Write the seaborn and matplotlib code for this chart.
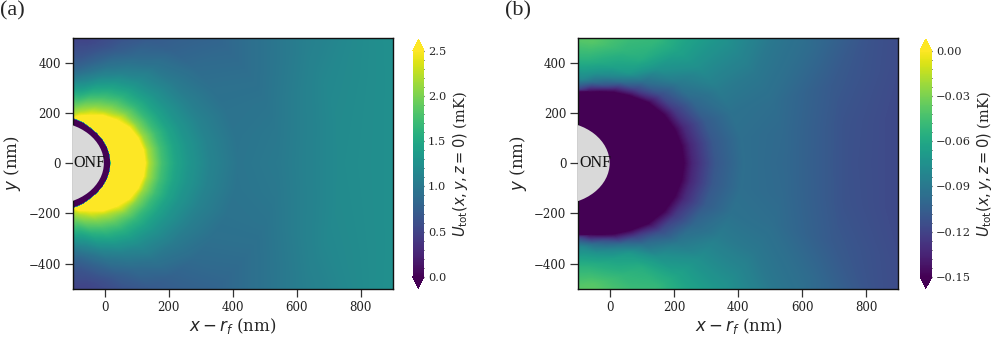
import numpy as np
import matplotlib
matplotlib.use("Agg")
import matplotlib.pyplot as plt
import matplotlib as mpl
import seaborn as sns
from matplotlib.patches import Circle
from matplotlib.ticker import MultipleLocator

# ---------------- data ----------------
# fiber geometry in (x - r_f, y) coordinates, nm
fiber_center_x = -167.0
fiber_radius = 165.0

# sampling of the potential: angle around the fiber axis (deg) and distance from surface (nm)
theta_deg = [0, 10, 20, 30, 40, 50, 58, 65, 71, 77, 84, 90]
dist_nm = [0, 10, 20, 30, 60, 100, 140, 180, 220, 260, 330, 420, 550, 750, 1000, 1300]

# panel (a): U_tot in mK, one list per angle (values along dist_nm)
ua_0 = [-2, -1, -0.3, 8.0, 5.5, 3.2, 2.2, 1.75, 1.48, 1.32, 1.12, 0.97, 1.02, 1.2, 1.26, 1.28]
ua_10 = [-2, -1, -0.3, 8.0, 5.4, 3.15, 2.18, 1.74, 1.47, 1.31, 1.11, 0.96, 1.0, 1.19, 1.26, 1.28]
ua_20 = [-2, -1, -0.4, 8.0, 5.0, 3.0, 2.12, 1.72, 1.46, 1.29, 1.09, 0.95, 0.96, 1.16, 1.25, 1.28]
ua_30 = [-2, -1, -0.5, 7.0, 4.5, 2.8, 2.05, 1.68, 1.43, 1.27, 1.06, 0.92, 0.9, 1.07, 1.22, 1.27]
ua_40 = [-2, -1, -0.6, 6.0, 3.8, 2.5, 2.0, 1.65, 1.42, 1.25, 1.03, 0.87, 0.83, 0.98, 1.15, 1.23]
ua_50 = [-2, -1, -0.9, 5.0, 2.85, 2.2, 1.88, 1.6, 1.38, 1.2, 0.98, 0.78, 0.74, 0.87, 1.02, 1.12]
ua_58 = [-2, -1.5, -2.5, 3.1, 2.45, 2.05, 1.75, 1.5, 1.28, 1.08, 0.86, 0.7, 0.68, 0.8, 0.95, 1.05]
ua_65 = [-2, -2, -2.5, 2.65, 2.2, 1.9, 1.6, 1.35, 1.12, 0.95, 0.72, 0.6, 0.6, 0.7, 0.85, 0.95]
ua_71 = [-2, -2, -2.5, 2.3, 2.05, 1.72, 1.42, 1.17, 0.96, 0.8, 0.6, 0.5, 0.5, 0.58, 0.72, 0.82]
ua_77 = [-2, -2, -2.5, 2.5, 2.1, 1.7, 1.35, 1.05, 0.82, 0.68, 0.52, 0.45, 0.45, 0.55, 0.68, 0.78]
ua_84 = [-2, -2, -2.5, 2.5, 2.1, 1.7, 1.3, 1.0, 0.8, 0.65, 0.5, 0.42, 0.42, 0.5, 0.6, 0.7]
ua_90 = [-2, -2, -2.5, 2.5, 2.1, 1.7, 1.3, 1.0, 0.8, 0.65, 0.5, 0.42, 0.42, 0.5, 0.6, 0.7]

# panel (b): U_tot in mK
ub_0 = [-0.3, -0.3, -0.3, -0.3, -0.3, -0.3, -0.3, -0.3, -0.158, -0.135, -0.11, -0.096, -0.1, -0.113, -0.12, -0.122]
ub_10 = [-0.3, -0.3, -0.3, -0.3, -0.3, -0.3, -0.3, -0.3, -0.157, -0.134, -0.109, -0.096, -0.099, -0.112, -0.12, -0.122]
ub_20 = [-0.3, -0.3, -0.3, -0.3, -0.3, -0.3, -0.3, -0.22, -0.155, -0.132, -0.107, -0.094, -0.096, -0.108, -0.117, -0.12]
ub_30 = [-0.3, -0.3, -0.3, -0.3, -0.3, -0.3, -0.3, -0.2, -0.152, -0.125, -0.1, -0.088, -0.09, -0.098, -0.113, -0.118]
ub_40 = [-0.3, -0.3, -0.3, -0.3, -0.3, -0.3, -0.25, -0.175, -0.143, -0.115, -0.09, -0.077, -0.078, -0.09, -0.105, -0.112]
ub_50 = [-0.3, -0.3, -0.3, -0.3, -0.3, -0.3, -0.22, -0.158, -0.12, -0.095, -0.073, -0.063, -0.065, -0.076, -0.09, -0.1]
ub_58 = [-0.3, -0.3, -0.3, -0.3, -0.3, -0.3, -0.18, -0.14, -0.095, -0.07, -0.056, -0.05, -0.053, -0.064, -0.078, -0.088]
ub_65 = [-0.3, -0.3, -0.3, -0.3, -0.3, -0.25, -0.165, -0.11, -0.08, -0.064, -0.052, -0.046, -0.05, -0.06, -0.073, -0.083]
ub_71 = [-0.3, -0.3, -0.3, -0.3, -0.3, -0.24, -0.145, -0.095, -0.072, -0.059, -0.046, -0.04, -0.043, -0.053, -0.067, -0.077]
ub_77 = [-0.3, -0.3, -0.3, -0.3, -0.3, -0.22, -0.12, -0.08, -0.066, -0.054, -0.04, -0.034, -0.036, -0.044, -0.058, -0.068]
ub_84 = [-0.3, -0.3, -0.3, -0.3, -0.3, -0.3, -0.13, -0.085, -0.063, -0.052, -0.04, -0.033, -0.034, -0.04, -0.05, -0.06]
ub_90 = [-0.3, -0.3, -0.3, -0.3, -0.3, -0.3, -0.13, -0.085, -0.063, -0.052, -0.04, -0.033, -0.034, -0.04, -0.05, -0.06]

cbar_a_ticks = [0.0, 0.5, 1.0, 1.5, 2.0, 2.5]
cbar_b_ticks = [-0.15, -0.12, -0.09, -0.06, -0.03, 0.00]
x_ticks = [0, 200, 400, 600, 800]
y_ticks = [-400, -200, 0, 200, 400]
x_label = r"$x - r_f$ (nm)"
y_label = r"$y$ (nm)"
cbar_label = r"$U_{\mathrm{tot}}(x, y, z = 0)$ (mK)"
panel_labels = ["(a)", "(b)"]
fiber_text = "ONF"

# ---------------- style ----------------
sns.set_theme(style="ticks")
plt.rcParams["font.family"] = ["DejaVu Serif"]
plt.rcParams["mathtext.fontset"] = "dejavusans"
cmap = sns.color_palette("viridis", as_cmap=True)


def full_grid(rows):
    """Mirror the y>=0 half (field is symmetric in y) and build mesh coordinates."""
    th = np.array(theta_deg, float)
    Z_half = np.array(rows, float)
    th_full = np.concatenate([-th[::-1][:-1], th])
    Z = np.concatenate([Z_half[::-1][:-1], Z_half], axis=0)
    T, D = np.meshgrid(np.deg2rad(th_full), np.array(dist_nm, float), indexing="ij")
    R = fiber_radius + D
    X = fiber_center_x + R * np.cos(T)
    Y = R * np.sin(T)
    return X, Y, Z


fig = plt.figure(figsize=(9.96, 3.38), dpi=100)

panels = [
    dict(rows=[ua_0, ua_10, ua_20, ua_30, ua_40, ua_50, ua_58, ua_65, ua_71, ua_77, ua_84, ua_90],
         vmin=0.0, vmax=2.5, ticks=cbar_a_ticks, minor=0.1, fmt="%.1f",
         ax_rect=[72.5, 37.5, 392.5, 288.7], cb_rect=[412.7, 39.3, 424.0, 288.3],
         lab_x=0.0),
    dict(rows=[ub_0, ub_10, ub_20, ub_30, ub_40, ub_50, ub_58, ub_65, ub_71, ub_77, ub_84, ub_90],
         vmin=-0.15, vmax=0.0, ticks=cbar_b_ticks, minor=0.006, fmt=None,
         ax_rect=[578.3, 37.5, 898.3, 288.7], cb_rect=[920.0, 39.3, 931.7, 288.3],
         lab_x=505.0 / 996),
]

W, H = 996.0, 338.0
for i, p in enumerate(panels):
    l, t, r, b = p["ax_rect"]
    ax = fig.add_axes([l / W, 1 - b / H, (r - l) / W, (b - t) / H])
    X, Y, Z = full_grid(p["rows"])
    levels = np.linspace(p["vmin"], p["vmax"], 257)
    norm = mpl.colors.Normalize(vmin=p["vmin"], vmax=p["vmax"])
    ax.contourf(X, Y, Z, levels=levels, cmap=cmap, norm=norm, extend="both", antialiased=False)
    ax.add_patch(Circle((fiber_center_x, 0.0), fiber_radius, facecolor="#d9d9d9",
                        edgecolor="none", zorder=3))
    ax.text(-96, 0, fiber_text, ha="left", va="center", fontsize=11.5, zorder=4,
            color="#111111", family=["Liberation Serif"])
    ax.set_xlim(-100, 900)
    ax.set_ylim(-500, 500)
    ax.set_xticks(x_ticks)
    ax.set_yticks(y_ticks)
    ax.tick_params(axis="both", direction="out", length=6, width=0.9, labelsize=8.5,
                   color="#333333", labelcolor="#222222", pad=2.5)
    for s in ax.spines.values():
        s.set_linewidth(1.0)
        s.set_color("#111111")
    ax.set_xlabel(x_label, fontsize=12, labelpad=2)
    ax.set_ylabel(y_label, fontsize=12, labelpad=4)

    # colorbar
    l, t, r, b = p["cb_rect"]
    cax = fig.add_axes([l / W, 1 - b / H, (r - l) / W, (b - t) / H])
    sm = mpl.cm.ScalarMappable(norm=norm, cmap=cmap)
    cb = fig.colorbar(sm, cax=cax, extend="both", ticks=p["ticks"])
    cb.outline.set_visible(False)
    cax.yaxis.set_minor_locator(MultipleLocator(p["minor"]))
    if p["fmt"]:
        cb.ax.yaxis.set_major_formatter(mpl.ticker.FormatStrFormatter(p["fmt"]))
    cax.tick_params(which="major", direction="in", length=7, width=0.9, color="#222222",
                    labelsize=8.2, pad=3)
    cax.tick_params(which="minor", direction="in", length=3.5, width=0.7, color="#222222")
    cb.set_label(cbar_label, fontsize=10.5, labelpad=3)

    fig.text(p["lab_x"], 0.995, panel_labels[i], ha="left", va="top", fontsize=16,
             family=["Liberation Serif"])

fig.savefig("out.png", dpi=100)
